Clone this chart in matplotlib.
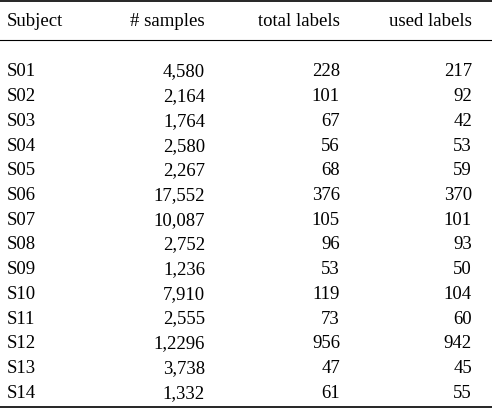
import matplotlib

matplotlib.use("Agg")
import matplotlib.pyplot as plt

# table contents
HEADERS = ["Subject", "# samples", "total labels", "used labels"]
SUBJECTS = ["S01", "S02", "S03", "S04", "S05", "S06", "S07",
            "S08", "S09", "S10", "S11", "S12", "S13", "S14"]
SAMPLES = ["4,580", "2,164", "1,764", "2,580", "2,267", "17,552", "10,087",
           "2,752", "1,236", "7,910", "2,555", "1,2296", "3,738", "1,332"]
TOTAL_LABELS = [228, 101, 67, 56, 68, 376, 105, 96, 53, 119, 73, 956, 47, 61]
USED_LABELS = [217, 92, 42, 53, 59, 370, 101, 93, 50, 104, 60, 942, 45, 55]

W, H = 492, 408
fig = plt.figure(figsize=(W / 100, H / 100), dpi=100)
ax = fig.add_axes([0, 0, 1, 1])
ax.set_xlim(0, W)
ax.set_ylim(H, 0)
ax.axis("off")

font = dict(family="Liberation Serif", fontsize=13.5, va="center")
col_x = [7, 205, 340, 472]
aligns = ["left", "right", "right", "right"]

for x, h, a in zip(col_x, HEADERS, aligns):
    ax.text(x, 22, h, ha=a, **font)

ax.plot([0, W], [1, 1], color="black", lw=1.2)
ax.plot([0, W], [40, 40], color="black", lw=0.8)
ax.plot([0, W], [407, 407], color="black", lw=1.2)

y0, dy = 72, 24.7
for i, row in enumerate(zip(SUBJECTS, SAMPLES, TOTAL_LABELS, USED_LABELS)):
    y = y0 + i * dy
    for x, v, a in zip(col_x, row, aligns):
        ax.text(x, y, str(v), ha=a, **font)

fig.savefig("out.png", dpi=100)
